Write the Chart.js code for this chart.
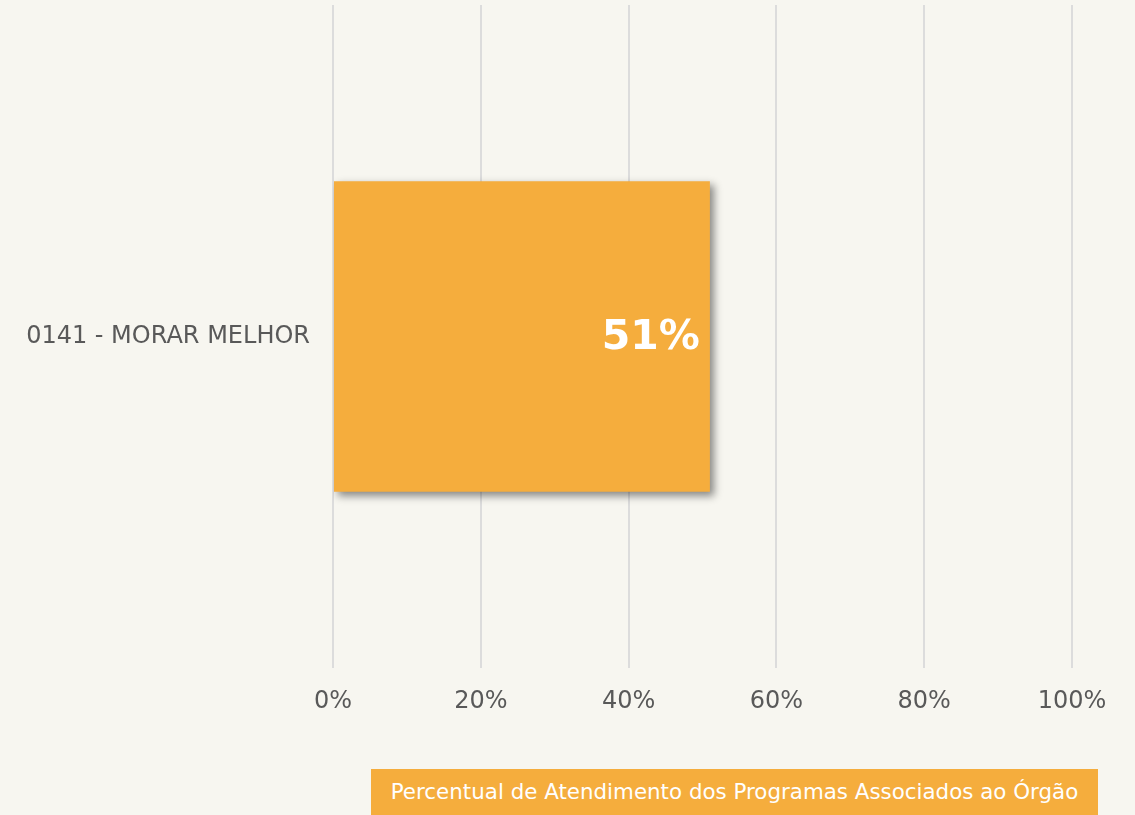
<!DOCTYPE html>
<html>
<head>
<meta charset="utf-8">
<script src="https://cdn.jsdelivr.net/npm/chart.js@4"></script>
<style>
  html, body { margin: 0; padding: 0; background: #f7f6f0; }
  #wrap { position: relative; width: 1135px; height: 815px; overflow: hidden; }
  #chart { display: block; }
  #legendBox {
    position: absolute; left: 371px; top: 769px; width: 727px; height: 50px;
    background: #f5ad3d; color: #fff; font-family: "DejaVu Sans", Verdana, sans-serif;
    font-size: 21.4px; line-height: 46px; text-align: center;
  }
</style>
</head>
<body>
<div id="wrap">
  <canvas id="chart" width="1135" height="815"></canvas>
  <div id="legendBox">Percentual de Atendimento dos Programas Associados ao Órgão</div>
</div>
<script>
const categories = ["0141 - MORAR MELHOR"];
const values = [51];
const tickValues = [0, 20, 40, 60, 80, 100];

const barColor = "#f5ad3d";
const textColor = "#595959";
const fontFamily = "'DejaVu Sans', Verdana, sans-serif";

// drop shadow under the bars
const shadowPlugin = {
  id: "barShadow",
  beforeDatasetDraw(chart) {
    const ctx = chart.ctx;
    ctx.save();
    ctx.shadowColor = "rgba(0, 0, 0, 0.45)";
    ctx.shadowBlur = 8;
    ctx.shadowOffsetX = 4;
    ctx.shadowOffsetY = 4;
  },
  afterDatasetDraw(chart) {
    chart.ctx.restore();
  },
};

// big white value at the end of each bar
const valueLabels = {
  id: "valueLabels",
  afterDatasetsDraw(chart) {
    const ctx = chart.ctx;
    const meta = chart.getDatasetMeta(0);
    ctx.save();
    ctx.fillStyle = "#ffffff";
    ctx.font = "bold 41px " + fontFamily;
    ctx.textAlign = "right";
    ctx.textBaseline = "middle";
    meta.data.forEach((bar, i) => {
      ctx.fillText(values[i] + "%", bar.x - 10, bar.y + 2);
    });
    ctx.restore();
  },
};

new Chart(document.getElementById("chart").getContext("2d"), {
  type: "bar",
  data: {
    labels: categories,
    datasets: [
      {
        data: values,
        backgroundColor: barColor,
        borderWidth: 0,
        categoryPercentage: 1,
        barPercentage: 0.468,
      },
    ],
  },
  options: {
    indexAxis: "y",
    responsive: false,
    animation: false,
    layout: { padding: { top: 5, right: 63, left: 0, bottom: 0 } },
    plugins: {
      legend: { display: false },
      tooltip: { enabled: false },
    },
    scales: {
      x: {
        min: 0,
        max: 100,
        afterBuildTicks(scale) {
          scale.ticks = tickValues.map((v) => ({ value: v }));
        },
        afterFit(scale) {
          scale.height = 147;
        },
        border: { display: false },
        grid: { color: "#dcdcdc", lineWidth: 2, drawTicks: false },
        ticks: {
          padding: 19,
          color: textColor,
          font: { family: fontFamily, size: 24 },
          callback: (v) => v + "%",
        },
      },
      y: {
        afterFit(scale) {
          scale.width = 333;
          scale.paddingTop = 0;
          scale.paddingBottom = 0;
        },
        border: { display: false },
        grid: { display: false, drawTicks: false },
        ticks: {
          padding: 23,
          color: textColor,
          font: { family: fontFamily, size: 24 },
        },
      },
    },
  },
  plugins: [shadowPlugin, valueLabels],
});
</script>
</body>
</html>
